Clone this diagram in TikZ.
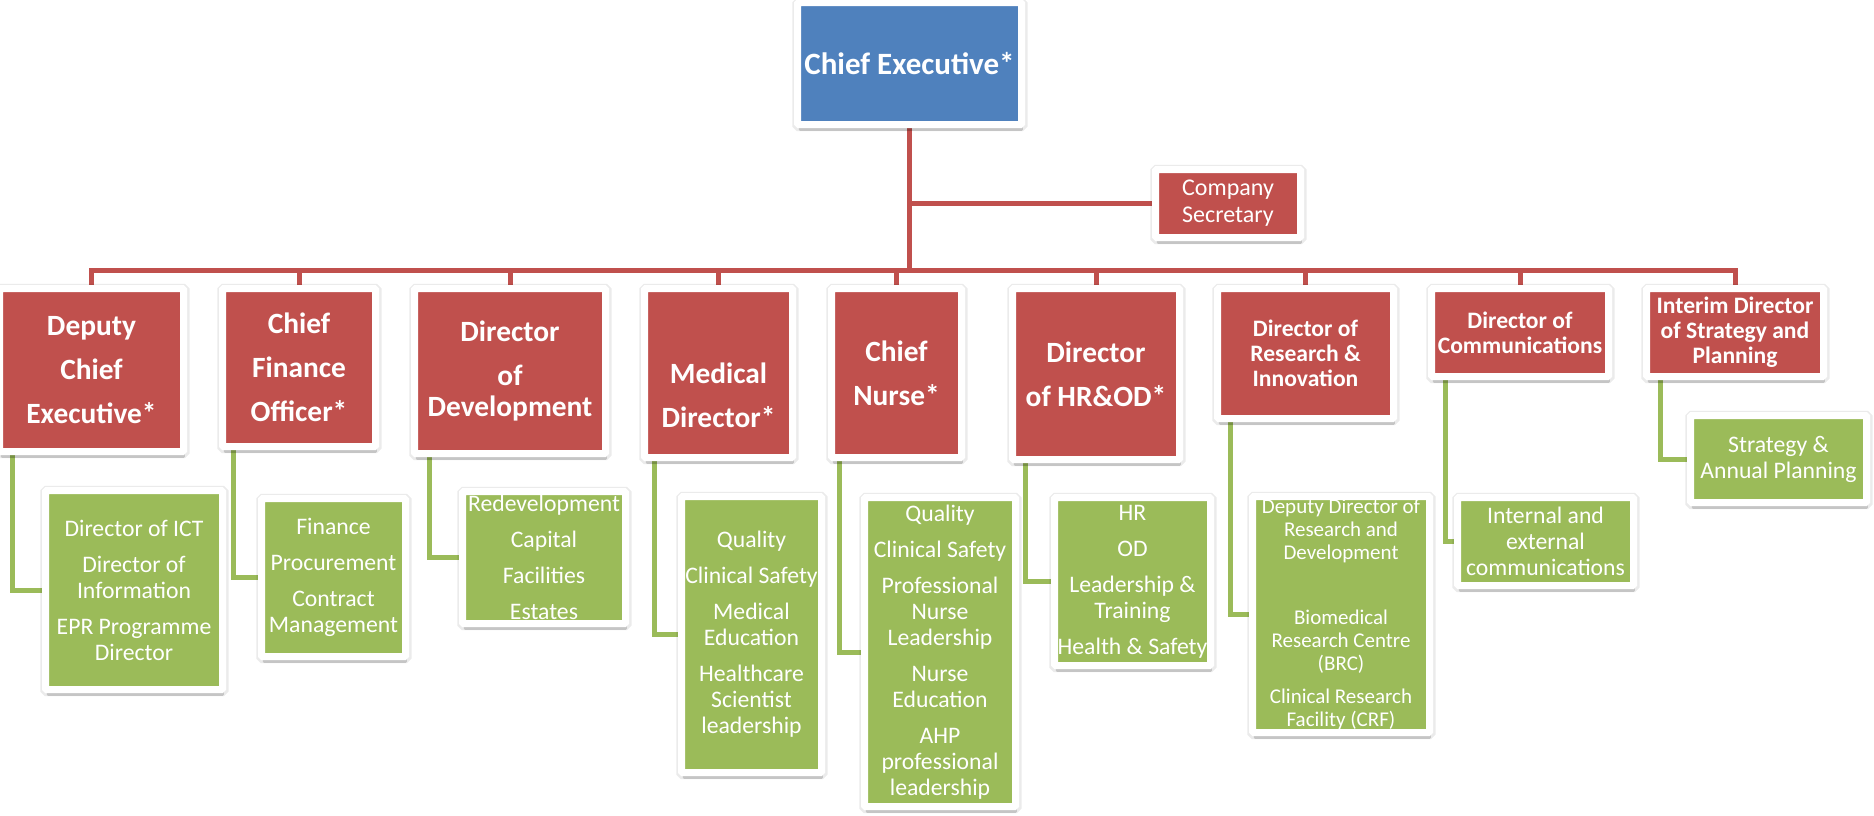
\documentclass[tikz,border=0pt]{standalone}
\usepackage{fontspec}
\setmainfont{Carlito}
\usepackage{tikz}
\usetikzlibrary{shadows, backgrounds}

\definecolor{ceoblue}{HTML}{4F81BD}
\definecolor{dirred}{HTML}{C0504D}
\definecolor{unitgreen}{HTML}{9BBB59}

\begin{document}
\begin{tikzpicture}[x=0.5pt, y=-0.5pt,
    framed/.style={draw=white, line width=3.5pt, rounded corners=0.6pt, text=white,
        align=center, inner sep=0pt,
        general shadow={shadow xshift=0.2pt, shadow yshift=-0.5pt, draw=black, draw opacity=0.08, line width=5.6pt},
        drop shadow={shadow xshift=0.7pt, shadow yshift=-3.2pt, opacity=0.16, fill=black}},
    headbox/.style={framed, fill=ceoblue, font=\fontsize{15.5pt}{18pt}\selectfont\bfseries},
    secbox/.style={framed, fill=dirred, font=\fontsize{12pt}{13.5pt}\selectfont},
    dirbox/.style={framed, fill=dirred, font=\fontsize{14.7pt}{15.5pt}\selectfont\bfseries},
    smalldir/.style={framed, fill=dirred, font=\fontsize{11.8pt}{12.6pt}\selectfont\bfseries},
    unitbox/.style={framed, fill=unitgreen, font=\fontsize{11.85pt}{13pt}\selectfont},
    dirline/.style={draw=dirred, line width=2.5pt},
    unitline/.style={draw=unitgreen, line width=2.5pt}]
    \useasboundingbox (0,0) rectangle (1874,815);

    \node (ceo) [headbox, minimum width=112pt, minimum height=61pt] at (909.5,63.5) {Chief Executive*};
    \node (cosec) [secbox, minimum width=72.5pt, minimum height=34pt] at (1228,203.5) {Company\\Secretary};

    \node (dce) [dirbox, minimum width=92pt, minimum height=81.5pt] at (91.5,370) {Deputy\\[6.5pt]Chief\\[6.5pt]Executive*};
    \node (cfo) [dirbox, minimum width=76.5pt, minimum height=79pt] at (299,367.5) {Chief\\[6.5pt]Finance\\[6.5pt]Officer*};
    \node (dod) [dirbox, minimum width=95.5pt, minimum height=82.5pt] at (510,371) {Director\\[6.5pt]of\\Development};
    \node (md) [dirbox, minimum width=74pt, minimum height=84.5pt] at (718.5,373) {\strut\\[6.5pt]Medical\\[6.5pt]Director*};
    \node (cn) [dirbox, minimum width=65pt, minimum height=84.5pt] at (896.5,373) {Chief\\[6.5pt]Nurse*};
    \node (hr) [dirbox, minimum width=83.5pt, minimum height=85.5pt] at (1096,374) {Director\\[6.5pt]of HR\&OD*};
    \node (ri) [smalldir, minimum width=88pt, minimum height=65pt] at (1305.5,353.5) {Director of\\Research \&\\Innovation};
    \node (comms) [smalldir, minimum width=88.5pt, minimum height=44pt] at (1520,332.5) {Director of\\Communications};
    \node (strat) [smalldir, minimum width=88.5pt, minimum height=44pt] at (1735,332.5) {Interim Director\\of Strategy and\\Planning};

    \node (dceunit) [unitbox, minimum width=88.5pt, minimum height=99.5pt] at (134,590) {Director of ICT\\[5pt]Director of\\Information\\[5pt]EPR Programme\\Director};
    \node (cfounit) [unitbox, minimum width=72pt, minimum height=79pt] at (333.5,577.5) {Finance\\[5pt]Procurement\\[5pt]Contract\\Management};
    \node (dodunit) [unitbox, minimum width=81.5pt, minimum height=66pt] at (544,557.5) {Redevelopment\\[5pt]Capital\\[5pt]Facilities\\[5pt]Estates};
    \node (mdunit) [unitbox, minimum width=70pt, minimum height=138pt] at (751.5,634.5) {Quality\\[5pt]Clinical Safety\\[5pt]Medical\\Education\\[5pt]Healthcare\\Scientist\\leadership};
    \node (cnunit) [unitbox, minimum width=75.5pt, minimum height=154.5pt] at (940,652) {Quality\\[5pt]Clinical Safety\\[5pt]Professional\\Nurse\\Leadership\\[5pt]Nurse\\Education\\[5pt]AHP\\professional\\leadership};
    \node (hrunit) [unitbox, minimum width=78pt, minimum height=84pt] at (1132.5,581.5) {HR\\[5pt]OD\\[5pt]Leadership \&\\Training\\[5pt]Health \& Safety};
    \node (riunit) [unitbox, font=\fontsize{10.5pt}{11.5pt}\selectfont, minimum width=88.5pt, minimum height=118pt] at (1341,614.5) {Deputy Director of\\Research and\\Development\\[21pt]Biomedical\\Research Centre\\(BRC)\\[5pt]Clinical Research\\Facility (CRF)};
    \node (commsunit) [unitbox, minimum width=88pt, minimum height=44pt] at (1545.5,541.5) {Internal and\\external\\communications};
    \node (stratunit) [unitbox, minimum width=88pt, minimum height=43.5pt] at (1778.5,459) {Strategy \&\\Annual Planning};

    \coordinate (bus) at (909.5,270);

    \begin{pgfonlayer}{background}
        \draw[dirline] (ceo.south) -- (bus);
        \draw[dirline] (ceo.south |- cosec.west) -- (cosec.west);
        \foreach \d in {dce, cfo, dod, md, cn, hr, ri, comms, strat}
            \draw[dirline] (bus) -| (\d.north);

        \draw[unitline] ([xshift=8.25pt]dce.south west) |- (dceunit.west);
        \draw[unitline] ([xshift=7.25pt]cfo.south west) |- (cfounit.west);
        \draw[unitline] ([xshift=9.25pt]dod.south west) |- (dodunit.west);
        \draw[unitline] ([xshift=6.75pt]md.south west) |- (mdunit.west);
        \draw[unitline] ([xshift=5.75pt]cn.south west) |- (cnunit.west);
        \draw[unitline] ([xshift=8.25pt]hr.south west) |- (hrunit.west);
        \draw[unitline] ([xshift=8.25pt]ri.south west) |- (riunit.west);
        \draw[unitline] ([xshift=8.75pt]comms.south west) |- (commsunit.west);
        \draw[unitline] ([xshift=8.75pt]strat.south west) |- (stratunit.west);
    \end{pgfonlayer}
\end{tikzpicture}
\end{document}
